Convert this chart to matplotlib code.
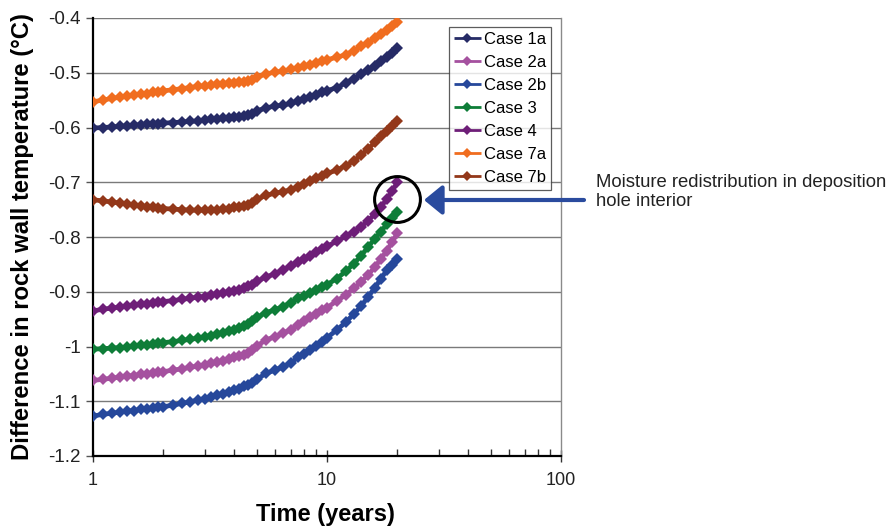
import matplotlib
matplotlib.use("Agg")
import matplotlib.pyplot as plt
from matplotlib.ticker import FixedLocator, LogLocator, NullFormatter

plt.rcParams['font.family'] = ['Liberation Sans', 'DejaVu Sans']
plt.rcParams['axes.unicode_minus'] = False

# ---------------- data ----------------
time_years = [1.0, 1.1, 1.2, 1.3, 1.4, 1.5, 1.6, 1.7, 1.8, 1.9, 2.0,
              2.2, 2.4, 2.6, 2.8, 3.0, 3.2, 3.4, 3.6, 3.8, 4.0, 4.2, 4.4, 4.6, 4.8, 5.0,
              5.5, 6.0, 6.5, 7.0, 7.5, 8.0, 8.5, 9.0, 9.5, 10.0,
              11, 12, 13, 14, 15, 16, 17, 18, 19, 20]

case_1a = [-0.601, -0.600, -0.599, -0.598, -0.597, -0.596, -0.595, -0.594, -0.593, -0.593, -0.592,
           -0.591, -0.590, -0.589, -0.588, -0.587, -0.585, -0.584, -0.583, -0.582, -0.581, -0.580, -0.579, -0.578, -0.576, -0.570,
           -0.564, -0.561, -0.559, -0.556, -0.552, -0.548, -0.544, -0.540, -0.536, -0.533,
           -0.527, -0.519, -0.511, -0.503, -0.495, -0.487, -0.479, -0.472, -0.464, -0.455]

case_2a = [-1.062, -1.060, -1.058, -1.056, -1.054, -1.053, -1.051, -1.050, -1.049, -1.047, -1.046,
           -1.043, -1.041, -1.038, -1.036, -1.034, -1.031, -1.029, -1.026, -1.023, -1.020, -1.018, -1.015, -1.011, -1.006, -0.999,
           -0.988, -0.982, -0.976, -0.969, -0.960, -0.953, -0.946, -0.940, -0.934, -0.929,
           -0.917, -0.906, -0.894, -0.882, -0.869, -0.855, -0.840, -0.825, -0.809, -0.793]

case_2b = [-1.127, -1.124, -1.122, -1.120, -1.118, -1.117, -1.115, -1.114, -1.113, -1.111, -1.110,
           -1.107, -1.104, -1.101, -1.098, -1.095, -1.092, -1.089, -1.086, -1.083, -1.080, -1.077, -1.073, -1.070, -1.066, -1.060,
           -1.049, -1.043, -1.037, -1.030, -1.020, -1.013, -1.007, -0.999, -0.991, -0.984,
           -0.970, -0.956, -0.941, -0.926, -0.909, -0.893, -0.876, -0.861, -0.851, -0.841]

case_3 = [-1.005, -1.004, -1.003, -1.002, -1.001, -0.999, -0.998, -0.997, -0.996, -0.994, -0.993,
          -0.991, -0.989, -0.987, -0.985, -0.982, -0.980, -0.977, -0.975, -0.972, -0.969, -0.966, -0.963, -0.959, -0.954, -0.947,
          -0.938, -0.933, -0.927, -0.920, -0.912, -0.907, -0.903, -0.897, -0.892, -0.887,
          -0.876, -0.863, -0.849, -0.834, -0.818, -0.803, -0.790, -0.777, -0.766, -0.755]

case_4 = [-0.935, -0.932, -0.930, -0.928, -0.926, -0.925, -0.923, -0.922, -0.920, -0.919, -0.918,
          -0.916, -0.914, -0.912, -0.910, -0.909, -0.906, -0.904, -0.902, -0.900, -0.898, -0.896, -0.893, -0.890, -0.887, -0.881,
          -0.873, -0.867, -0.860, -0.853, -0.846, -0.840, -0.834, -0.828, -0.822, -0.817,
          -0.808, -0.799, -0.790, -0.781, -0.770, -0.758, -0.745, -0.731, -0.716, -0.700]

case_7a = [-0.553, -0.550, -0.547, -0.545, -0.543, -0.541, -0.539, -0.538, -0.536, -0.535, -0.533,
           -0.531, -0.529, -0.527, -0.525, -0.524, -0.522, -0.521, -0.520, -0.519, -0.518, -0.517, -0.516, -0.515, -0.513, -0.508,
           -0.502, -0.499, -0.497, -0.494, -0.491, -0.488, -0.485, -0.482, -0.479, -0.476,
           -0.472, -0.467, -0.460, -0.452, -0.445, -0.437, -0.429, -0.422, -0.414, -0.407]

case_7b = [-0.732, -0.734, -0.736, -0.738, -0.740, -0.742, -0.743, -0.745, -0.746, -0.747, -0.748,
           -0.749, -0.750, -0.751, -0.751, -0.751, -0.750, -0.750, -0.749, -0.748, -0.746, -0.745, -0.743, -0.741, -0.738, -0.731,
           -0.724, -0.720, -0.717, -0.714, -0.709, -0.704, -0.698, -0.693, -0.688, -0.684,
           -0.678, -0.670, -0.661, -0.650, -0.639, -0.627, -0.616, -0.606, -0.597, -0.588]

series_labels = ["Case 1a", "Case 2a", "Case 2b", "Case 3", "Case 4", "Case 7a", "Case 7b"]
series_values = [case_1a, case_2a, case_2b, case_3, case_4, case_7a, case_7b]
series_colors = ["#262B66", "#A5519F", "#26489B", "#0E7D38", "#6E1E78", "#F06D1F", "#93381A"]

x_major_ticks = [1, 10, 100]
x_tick_labels = ["1", "10", "100"]
y_ticks = [-1.2, -1.1, -1.0, -0.9, -0.8, -0.7, -0.6, -0.5, -0.4]
y_tick_labels = ["-1.2", "-1.1", "-1", "-0.9", "-0.8", "-0.7", "-0.6", "-0.5", "-0.4"]

# annotation anchor (circle highlighting Case 4 end point)
circle_t = 20
circle_v = -0.731
annotation_text = "Moisture redistribution in deposition\nhole interior"

# ---------------- figure ----------------
fig = plt.figure(figsize=(8.9, 5.29), dpi=100)
ax = fig.add_axes([93 / 890, 73 / 529, 468 / 890, 438 / 529])

for lab, vals, col in zip(series_labels, series_values, series_colors):
    ax.plot(time_years, vals, color=col, lw=3.4, marker='D', ms=6,
            mec=col, mew=0, label=lab, solid_capstyle='butt', zorder=3)

ax.set_xscale('log')
ax.set_xlim(1, 100)
ax.set_ylim(-1.2, -0.4)

ax.xaxis.set_major_locator(FixedLocator(x_major_ticks))
ax.set_xticklabels(x_tick_labels)
ax.xaxis.set_minor_locator(LogLocator(base=10, subs=range(2, 10)))
ax.xaxis.set_minor_formatter(NullFormatter())
ax.set_yticks(y_ticks)
ax.set_yticklabels(y_tick_labels)

ax.yaxis.grid(True, color='#7a7a7a', lw=1.0, zorder=1)
ax.set_axisbelow(True)

ax.spines['top'].set_visible(False)
ax.spines['right'].set_color('#8a8a8a')
ax.spines['right'].set_linewidth(1.0)
ax.spines['left'].set_linewidth(1.6)
ax.spines['bottom'].set_linewidth(1.6)
ax.spines['left'].set_color('black')
ax.spines['bottom'].set_color('black')

ax.tick_params(axis='y', which='major', direction='out', length=5, width=1,
               labelsize=13.5, pad=4, colors='#555555', labelcolor='#222222')
ax.tick_params(axis='x', which='major', direction='inout', length=9, width=1,
               labelsize=13, pad=7, colors='#333333', labelcolor='#222222')
ax.tick_params(axis='x', which='minor', direction='in', length=5, width=1,
               colors='#333333')

ax.set_xlabel("Time (years)", fontsize=17, fontweight='bold')
ax.set_ylabel("Difference in rock wall temperature (°C)", fontsize=17.2,
              fontweight='bold')
ax.xaxis.set_label_coords((325 - 93) / 468, -(503 - 456) / 438)
ax.yaxis.set_label_coords(-(93 - 34) / 468, (456 - 237) / 438)

leg = ax.legend(loc='upper right', bbox_to_anchor=(0.979, 0.979), borderaxespad=0,
                fontsize=12, frameon=True, fancybox=False, edgecolor='#333333',
                handlelength=1.6, handletextpad=0.2, labelspacing=0.48,
                borderpad=0.3, markerscale=0.85)
leg.get_frame().set_linewidth(0.9)
for h in leg.get_lines():
    h.set_linewidth(2.0)

# circle highlight
ax.plot([circle_t], [circle_v], marker='o', ms=33, mfc='none', mec='black',
        mew=2.2, zorder=5, clip_on=False)

# arrow and annotation text (figure pixel coordinates)
ax.annotate('', xy=(424, 529 - 200), xycoords='figure pixels',
            xytext=(584, 529 - 200), textcoords='figure pixels',
            arrowprops=dict(arrowstyle='-|>,head_length=0.55,head_width=0.45',
                            mutation_scale=20, lw=3, color='#2A4B9E',
                            shrinkA=0, shrinkB=0))
fig.text(596 / 890, 1 - 192 / 529, annotation_text, fontsize=13.3,
         color='#222222', va='center', ha='left', linespacing=1.12)

fig.savefig("out.png", dpi=100)
